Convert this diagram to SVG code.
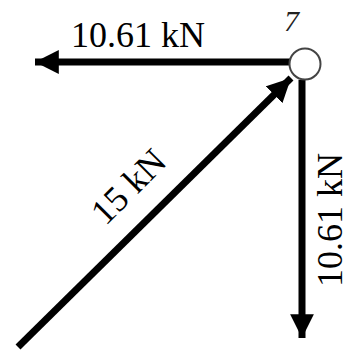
<svg xmlns="http://www.w3.org/2000/svg" width="350" height="351" viewBox="0 0 350 351">
<style>
.f{stroke:#000;stroke-width:7;fill:none}
.t{font-family:"Liberation Serif","Times New Roman",serif;font-size:36px;fill:#000}
</style>
<defs>
<marker id="ah" viewBox="0 0 10 10" refX="10" refY="5" markerWidth="3.4" markerHeight="3.4" orient="auto" markerUnits="strokeWidth">
<path d="M0,0 L10,5 L0,10 z" fill="#000"/>
</marker>
</defs>
<g id="connectors">
<line class="f" x1="290" y1="62" x2="35" y2="62" marker-end="url(#ah)"/>
<line class="f" x1="302" y1="80" x2="302" y2="338" marker-end="url(#ah)"/>
<line class="f" x1="18" y1="347" x2="291" y2="78" marker-end="url(#ah)"/>
</g>
<g id="node7">
<circle cx="305" cy="64" r="15.5" fill="#fff" stroke="#444" stroke-width="2"/>
<text x="284" y="31" style="font-family:'Liberation Serif',serif;font-size:30px;font-style:italic;fill:#222">7</text>
</g>
<g id="labels">
<text class="t" x="71" y="47">10.61 kN</text>
<text class="t" text-anchor="middle" transform="translate(137,195) rotate(-45)">15 kN</text>
<text class="t" text-anchor="middle" transform="translate(342,220) rotate(-90)">10.61 kN</text>
</g>
</svg>
